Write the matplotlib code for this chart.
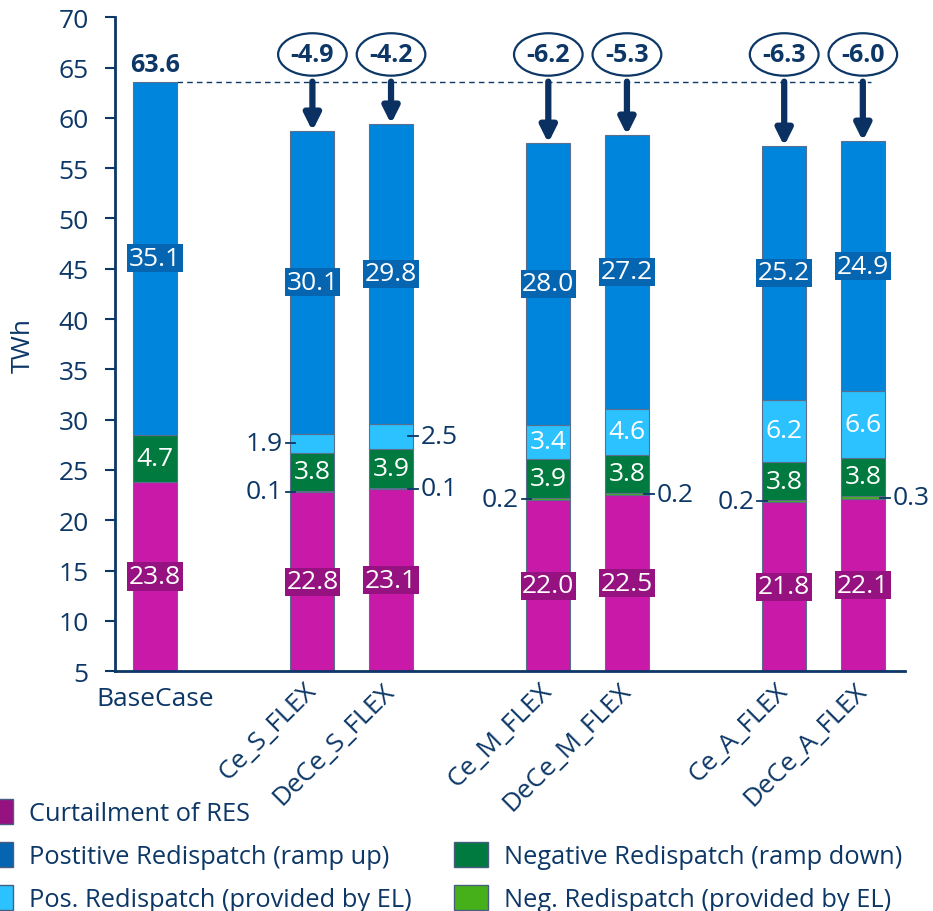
import matplotlib.pyplot as plt
from matplotlib.patches import Patch

plt.rcParams['font.family'] = ['Open Sans', 'DejaVu Sans']

# Redispatch and curtailment per scenario (TWh)
scenarios = ['BaseCase', 'Ce_S_FLEX', 'DeCe_S_FLEX', 'Ce_M_FLEX',
             'DeCe_M_FLEX', 'Ce_A_FLEX', 'DeCe_A_FLEX']
x_pos = [0, 2, 3, 5, 6, 8, 9]
curtailment = [23.8, 22.8, 23.1, 22.0, 22.5, 21.8, 22.1]
neg_el = [0.0, 0.1, 0.1, 0.2, 0.2, 0.2, 0.3]
neg_redispatch = [4.7, 3.8, 3.9, 3.9, 3.8, 3.8, 3.8]
pos_el = [0.0, 1.9, 2.5, 3.4, 4.6, 6.2, 6.6]
pos_redispatch = [35.1, 30.1, 29.8, 28.0, 27.2, 25.2, 24.9]
deltas = [None, -4.9, -4.2, -6.2, -5.3, -6.3, -6.0]
label_side = [None, 'left', 'right', 'left', 'right', 'left', 'right']

navy = '#0c3766'
c_curt, c_curt_box = '#c819a9', '#951280'
c_pos, c_pos_box = '#0085dc', '#0565b0'
c_pos_el = '#2bc2ff'
c_neg = '#007a3e'
c_neg_el = '#46b01a'

width = 0.56
ymin = 5
fs = 19

fig = plt.figure(figsize=(9.33, 9.12), dpi=100)
ax = fig.add_axes([0.1233, 0.263, 0.847, 0.717])

layers = [
    (curtailment, c_curt, 'box', c_curt_box),
    (neg_el, c_neg_el, 'side', None),
    (neg_redispatch, c_neg, 'plain', None),
    (pos_el, c_pos_el, 'plain_or_side', None),
    (pos_redispatch, c_pos, 'box', c_pos_box),
]


def side_label(i, y, val):
    x = x_pos[i]
    if label_side[i] == 'left':
        edge = x - width / 2
        ax.plot([edge - 0.06, edge + 0.06], [y, y], color=navy, lw=1.3, zorder=4)
        ax.text(edge - 0.1, y, f'{val:.1f}', ha='right', va='center',
                fontsize=fs, color=navy)
    else:
        edge = x + width / 2
        ax.plot([edge - 0.06, edge + 0.06], [y, y], color=navy, lw=1.3, zorder=4)
        ax.text(edge + 0.1, y, f'{val:.1f}', ha='left', va='center',
                fontsize=fs, color=navy)


bottom = [0.0] * len(x_pos)
for values, color, kind, box in layers:
    ax.bar(x_pos, values, width, bottom=bottom, color=color,
           edgecolor='#5b6f8c', linewidth=0.8, zorder=2)
    for i, v in enumerate(values):
        if v <= 0:
            continue
        lo = max(bottom[i], ymin)
        yc = (lo + bottom[i] + v) / 2
        if kind == 'box':
            ax.text(x_pos[i], yc, f'{v:.1f}', ha='center', va='center',
                    fontsize=fs, color='white', zorder=5,
                    bbox=dict(boxstyle='square,pad=0.06', fc=box, ec='none'))
        elif kind == 'side' or (kind == 'plain_or_side' and v < 3):
            side_label(i, yc, v)
        else:
            ax.text(x_pos[i], yc, f'{v:.1f}', ha='center', va='center',
                    fontsize=fs, color='white', zorder=5)
    bottom = [b + v for b, v in zip(bottom, values)]

totals = bottom
base = totals[0]

# reference level of the base case and change arrows
ax.plot([x_pos[0] + width / 2, 9.1], [base, base], color=navy, lw=1,
        ls=(0, (4, 3)), zorder=1)
ax.text(x_pos[0], base + 0.5, f'{base:.1f}', ha='center', va='bottom',
        fontsize=18, fontweight='bold', color=navy)
for i, d in enumerate(deltas):
    if d is None:
        continue
    ax.annotate('', xy=(x_pos[i], totals[i]), xytext=(x_pos[i], base),
                arrowprops=dict(arrowstyle='-|>', color='#0a3161', lw=4.5,
                                mutation_scale=24, shrinkA=0, shrinkB=0),
                zorder=4)
    ax.text(x_pos[i], base + 2.7, f'{d:.1f}', ha='center', va='center',
            fontsize=18, fontweight='bold', color=navy, zorder=5,
            bbox=dict(boxstyle='ellipse,pad=0.1', fc='white', ec=navy, lw=1.6))

ax.set_xlim(-0.51, 9.54)
ax.set_ylim(ymin, 70)
ax.set_yticks(range(5, 71, 5))
ax.set_xticks(x_pos)
ax.set_xticklabels(scenarios, fontsize=fs, color=navy)
for lbl in ax.get_xticklabels()[1:]:
    lbl.set_rotation(45)
    lbl.set_ha('right')
    lbl.set_va('center')
    lbl.set_rotation_mode('anchor')
ax.tick_params(axis='x', length=0, pad=11)
ax.tick_params(axis='y', labelsize=fs, labelcolor=navy, color=navy,
               length=7, width=1.5, pad=12)
for s in ['top', 'right']:
    ax.spines[s].set_visible(False)
for s in ['left', 'bottom']:
    ax.spines[s].set_color(navy)
    ax.spines[s].set_linewidth(2)
ax.set_ylabel('TWh', fontsize=fs, color=navy)
ax.yaxis.set_label_coords(-0.10, 0.5)

handles = [
    Patch(fc=c_curt_box, ec='#4a5f80', label='Curtailment of RES'),
    Patch(fc=c_pos_box, ec='#4a5f80', label='Postitive Redispatch (ramp up)'),
    Patch(fc=c_pos_el, ec='#4a5f80', label='Pos. Redispatch (provided by EL)'),
    Patch(visible=False, label=''),
    Patch(fc=c_neg, ec='#4a5f80', label='Negative Redispatch (ramp down)'),
    Patch(fc=c_neg_el, ec='#4a5f80', label='Neg. Redispatch (provided by EL)'),
]
leg = fig.legend(handles=handles, labels=[h.get_label() for h in handles],
                 loc='upper left', bbox_to_anchor=(-21 / 933, 0.123), ncol=2,
                 frameon=False, fontsize=18.3, borderpad=0, borderaxespad=0,
                 handlelength=1.34, handleheight=1.15, handletextpad=0.63,
                 columnspacing=1.68, labelspacing=0.62)
for t in leg.get_texts():
    t.set_color(navy)

fig.savefig('out.png', dpi=100)
